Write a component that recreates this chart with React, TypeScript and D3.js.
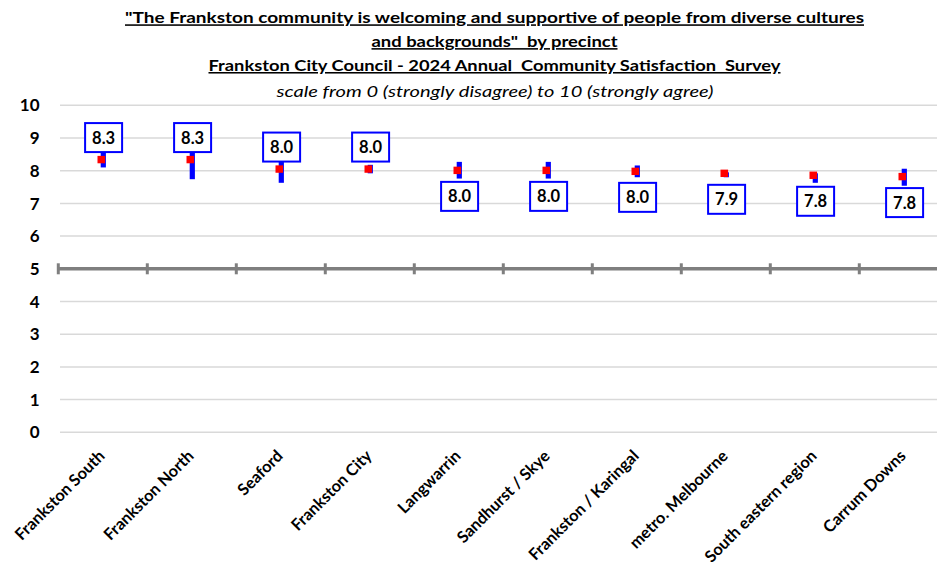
import React from "react";
import * as d3 from "d3";

const categories = [
  "Frankston South",
  "Frankston North",
  "Seaford",
  "Frankston City",
  "Langwarrin",
  "Sandhurst / Skye",
  "Frankston / Karingal",
  "metro. Melbourne",
  "South eastern region",
  "Carrum Downs",
];
const means = [8.34, 8.34, 8.05, 8.05, 8.01, 8.01, 7.98, 7.92, 7.86, 7.82];
const lower = [8.1, 7.74, 7.63, 7.92, 7.76, 7.76, 7.8, 7.8, 7.63, 7.54];
const upper = [8.55, 8.96, 8.5, 8.18, 8.27, 8.27, 8.16, 7.95, 7.92, 8.06];
const valueLabels = ["8.3", "8.3", "8.0", "8.0", "8.0", "8.0", "8.0", "7.9", "7.8", "7.8"];
const labelAbove = [true, true, true, true, false, false, false, false, false, false];
const yTicks = [0, 1, 2, 3, 4, 5, 6, 7, 8, 9, 10];
const referenceValue = 5;
const titleLines = [
  "\"The Frankston community is welcoming and supportive of people from diverse cultures",
  "and backgrounds\"  by precinct",
  "Frankston City Council - 2024 Annual  Community Satisfaction  Survey",
];
const subtitle = "scale from 0 (strongly disagree) to 10 (strongly agree)";

const W = 937;
const H = 562;
const FONT = "Lato, 'Open Sans', sans-serif";

export default function App() {
  const x = d3.scaleBand<string>().domain(categories).range([58.3, 948.3]);
  const y = d3.scaleLinear().domain([0, 10]).range([432.3, 105.3]);
  const bw = x.bandwidth();
  const cx = (c: string) => (x(c) as number) + bw / 2;

  const titleWidths = [739, 246, 572];
  const titleBaselines = [23.3, 47.1, 71];

  return (
    <svg
      width={W}
      height={H}
      style={{ position: "absolute", left: 0, top: 0, background: "#fff" }}
      fontFamily={FONT}
    >
      <rect x={0} y={0} width={W} height={H} fill="#fff" />
      {titleLines.map((t, i) => (
        <text
          key={i}
          x={494.5}
          y={titleBaselines[i]}
          textAnchor="middle"
          fontWeight="bold"
          fontSize={15.5}
          textDecoration="underline"
          textLength={titleWidths[i]}
          lengthAdjust="spacingAndGlyphs"
          fill="#000"
          style={{ whiteSpace: "pre" }}
        >
          {t}
        </text>
      ))}
      <text
        x={495}
        y={96.7}
        textAnchor="middle"
        fontStyle="italic"
        fontSize={15.5}
        textLength={437}
        lengthAdjust="spacingAndGlyphs"
        fill="#000"
      >
        {subtitle}
      </text>

      {/* gridlines */}
      {yTicks.map((t) => (
        <line
          key={"g" + t}
          x1={60}
          x2={W}
          y1={y(t)}
          y2={y(t)}
          stroke="#d9d9d9"
          strokeWidth={1.5}
        />
      ))}
      {/* y labels */}
      {yTicks.map((t) => (
        <text
          key={"yl" + t}
          x={39.5}
          y={y(t)}
          dy="0.36em"
          textAnchor="end"
          fontWeight="bold"
          fontSize={17}
          fill="#000"
        >
          {t}
        </text>
      ))}

      {/* reference line at 5 */}
      <line
        x1={58}
        x2={W}
        y1={y(referenceValue)}
        y2={y(referenceValue)}
        stroke="#7f7f7f"
        strokeWidth={3.5}
      />
      {[...categories.map((c) => x(c) as number), 948.3].map((bx, i) => (
        <line
          key={"tk" + i}
          x1={bx}
          x2={bx}
          y1={y(referenceValue) - 5.5}
          y2={y(referenceValue) + 5.5}
          stroke="#7f7f7f"
          strokeWidth={3}
        />
      ))}

      {/* CI bars */}
      {categories.map((c, i) => (
        <rect
          key={"b" + c}
          x={cx(c) + 0.5 - 2.6}
          y={y(upper[i])}
          width={5.2}
          height={y(lower[i]) - y(upper[i])}
          fill="#0000ff"
        />
      ))}
      {/* mean markers */}
      {categories.map((c, i) => (
        <rect
          key={"m" + c}
          x={cx(c) - 1.5 - 3.8}
          y={y(means[i]) - 3.7}
          width={7.6}
          height={7.4}
          fill="#ff0000"
        />
      ))}
      {/* value label boxes */}
      {categories.map((c, i) => {
        const cy = labelAbove[i] ? y(means[i]) - 22 : y(means[i]) + 26;
        const bx = cx(c) + 0.8;
        return (
          <g key={"l" + c}>
            <rect
              x={bx - 18.5}
              y={cy - 14.5}
              width={37}
              height={29}
              fill="#fff"
              stroke="#0000ff"
              strokeWidth={2}
            />
            <text
              x={bx}
              y={cy}
              dy="0.36em"
              textAnchor="middle"
              fontWeight="bold"
              fontSize={16.5}
              fill="#000"
            >
              {valueLabels[i]}
            </text>
          </g>
        );
      })}

      {/* x labels */}
      {categories.map((c) => (
        <text
          key={"xl" + c}
          transform={`translate(${cx(c) + 3},${457}) rotate(-45)`}
          textAnchor="end"
          fontWeight="bold"
          fontSize={16.3}
          fill="#000"
        >
          {c}
        </text>
      ))}
    </svg>
  );
}
